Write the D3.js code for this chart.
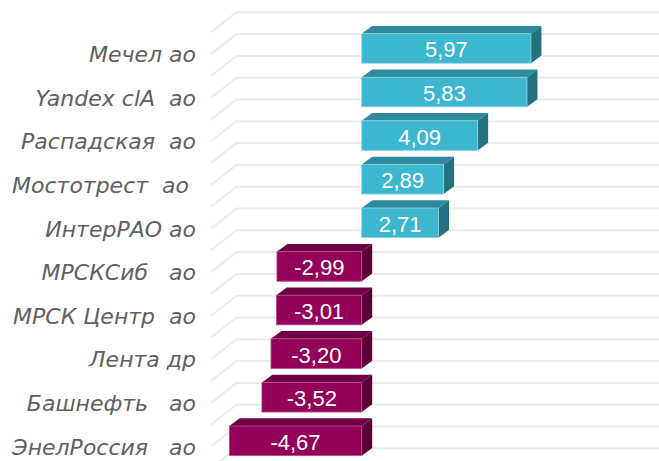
<!DOCTYPE html>
<html>
<head>
<meta charset="utf-8">
<script src="https://cdn.jsdelivr.net/npm/d3@7"></script>
<style>
    body { margin: 0; background: #ffffff; }
    svg { display: block; }
</style>
</head>
<body>
<div id="chart"></div>
<script>
// data
const categories = ["Мечел ао", "Yandex clA  ао", "Распадская  ао", "Мостотрест  ао ", "ИнтерРАО ао",
    "МРСКСиб   ао", "МРСК Центр  ао", "Лента др", "Башнефть   ао", "ЭнелРоссия   ао"]
const values = [5.97, 5.83, 4.09, 2.89, 2.71, -2.99, -3.01, -3.20, -3.52, -4.67]
const valueLabels = ["5,97", "5,83", "4,09", "2,89", "2,71", "-2,99", "-3,01", "-3,20", "-3,52", "-4,67"]

drawBarChart()

function drawBarChart() {
    const dataset = categories.map((c, i) => ({name: c, value: values[i], label: valueLabels[i]}))

    //dimensions
    let dimensions = {
        width: 659,
        height: 461,
        top: 12.3,
        bottom: 448.3,
        depthX: 10.5,
        depthY: 7.7,
    }

    const colors = {
        positive: {front: "#3db6d0", top: "#2e8a9c", side: "#25717f", edge: "#8ed4e3"},
        negative: {front: "#93005a", top: "#700045", side: "#5c0038", edge: "#b8508f"},
    }

    //canvas
    const wrapper = d3.select("#chart")
        .append("svg")
        .attr("width", dimensions.width)
        .attr("height", dimensions.height)
    const bounds = wrapper.append("g")

    //scales
    const xScale = d3.scaleLinear()
        .domain([-5, 10])
        .range([219.95, 645.2])
    const yScale = d3.scaleBand()
        .domain(categories)
        .range([dimensions.top, dimensions.bottom])
    const gridScale = d3.scaleLinear()
        .domain([0, categories.length * 2])
        .range([dimensions.top, dimensions.bottom])

    // gridlines
    const grid = bounds.append("g")
    grid.selectAll("path")
        .data(d3.range(categories.length * 2 + 1))
        .join("path")
        .attr("d", d => {
            const y = gridScale(d)
            return "M211," + (y + 20) + "L236.5," + y + "L" + dimensions.width + "," + y
        })
        .attr("fill", "none")
        .attr("stroke", "#ececec")
        .attr("stroke-width", 2)

    // bars
    const step = yScale.step()
    const barHeight = step * 0.68
    const frontTop = d => yScale(d.name) + step / 2 - 0.5
    const left = d => xScale(Math.min(0, d.value))
    const right = d => xScale(Math.max(0, d.value))
    const palette = d => d.value >= 0 ? colors.positive : colors.negative
    const dx = dimensions.depthX
    const dy = dimensions.depthY

    const bars = bounds.append("g")
        .selectAll("g")
        .data(dataset)
        .join("g")

    bars.append("path")
        .attr("d", d => {
            const y = frontTop(d)
            return "M" + left(d) + "," + y + "L" + (left(d) + dx) + "," + (y - dy) +
                "L" + (right(d) + dx) + "," + (y - dy) + "L" + right(d) + "," + y + "Z"
        })
        .attr("fill", d => palette(d).top)
    bars.append("path")
        .attr("d", d => {
            const y = frontTop(d)
            return "M" + right(d) + "," + y + "L" + (right(d) + dx) + "," + (y - dy) +
                "L" + (right(d) + dx) + "," + (y + barHeight - dy) + "L" + right(d) + "," + (y + barHeight) + "Z"
        })
        .attr("fill", d => palette(d).side)
    bars.append("rect")
        .attr("x", d => left(d))
        .attr("y", d => frontTop(d))
        .attr("width", d => right(d) - left(d))
        .attr("height", barHeight)
        .attr("fill", d => palette(d).front)
        .attr("stroke", d => palette(d).edge)
        .attr("stroke-width", 0.8)

    // value labels
    bars.append("text")
        .attr("x", d => (left(d) + right(d)) / 2)
        .attr("y", d => frontTop(d) + barHeight / 2 + 1.5)
        .attr("text-anchor", "middle")
        .attr("dominant-baseline", "central")
        .attr("fill", "#ffffff")
        .style("font-family", "'Liberation Sans', Arial, sans-serif")
        .style("font-size", "22px")
        .text(d => d.label)

    // category labels
    bounds.append("g")
        .selectAll("text")
        .data(dataset)
        .join("text")
        .attr("x", 196)
        .attr("y", d => frontTop(d) + barHeight - 1)
        .attr("text-anchor", "end")
        .attr("fill", "#606060")
        .style("font-family", "'DejaVu Sans', sans-serif")
        .style("font-style", "italic")
        .style("font-size", "22px")
        .style("white-space", "pre")
        .text(d => d.name)
}
</script>
</body>
</html>
